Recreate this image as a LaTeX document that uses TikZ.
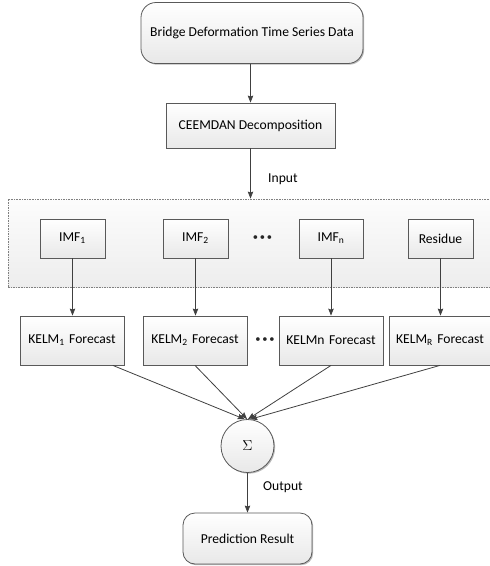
\documentclass[tikz,border=0pt]{standalone}
\usepackage{fontspec}
\setmainfont{Carlito}
\usetikzlibrary{arrows.meta,shadows,calc}
\begin{document}
\begin{tikzpicture}[x=1pt,y=-1pt,
  font=\fontsize{13.6}{16}\selectfont,
  box/.style={draw=black!65, line width=0.8pt, top color=white, bottom color=black!9,
    drop shadow={shadow xshift=1.2pt,shadow yshift=-1.2pt,fill=black!45,opacity=0.6},
    inner sep=0pt, align=center},
  grpbox/.style={draw=black!50, line width=0.8pt, dash pattern=on 1.6pt off 1pt,
    top color=black!1, bottom color=black!7, inner sep=0pt},
  arr/.style={draw=black!75, line width=0.8pt, -{Stealth[length=7pt,width=5.5pt,inset=1pt]}},
  lbl/.style={inner sep=0pt, anchor=west},
  dotsl/.style={inner sep=0pt, text=black!85, font=\fontsize{10.5}{12}\selectfont}
]
\useasboundingbox (0,0) rectangle (490,566);
\clip (0,0) rectangle (490,566);

% nodes
\node[box, rounded corners=15pt, minimum width=222pt, minimum height=61pt] (top) at (252,33) {Bridge Deformation Time Series Data};
\node[box, minimum width=169pt, minimum height=45pt] (ceem) at (250.5,125.5) {CEEMDAN Decomposition};

\node[grpbox, minimum width=494pt, minimum height=88pt] (grp) at (255,243) {};

\node[box, minimum width=65pt, minimum height=39pt] (imf1) at (72.5,238.5) {IMF\textsubscript{1}};
\node[box, minimum width=65pt, minimum height=39pt] (imf2) at (195.5,238.5) {IMF\textsubscript{2}};
\node[dotsl] (dots1) at (262.5,238) {\textbullet\,\textbullet\,\textbullet};
\node[box, minimum width=64pt, minimum height=39pt] (imfn) at (331,238.5) {IMF\textsubscript{n}};
\node[box, minimum width=65pt, minimum height=39pt] (res) at (440.5,238.5) {Residue};

\node[box, minimum width=104pt, minimum height=49pt] (kelm1) at (72,340.5) {KELM\textsubscript{1}\,\,Forecast};
\node[box, minimum width=104pt, minimum height=49pt] (kelm2) at (195,340.5) {KELM\textsubscript{2}\,\,Forecast};
\node[dotsl] (dots2) at (265,340) {\textbullet\,\textbullet\,\textbullet};
\node[box, minimum width=104pt, minimum height=49pt] (kelmn) at (331,340.5) {KELMn\,\,Forecast};
\node[box, minimum width=102pt, minimum height=49pt] (kelmr) at (440,340.5) {KELM\textsubscript{R}\,\,Forecast};

\node[box, circle, minimum size=53pt] (sig) at (247.5,446) {$\Sigma$};
\node[box, rounded corners=12pt, minimum width=129pt, minimum height=51pt] (pred) at (247.5,538.5) {Prediction Result};

% labels
\node[lbl] (inlbl) at (268,179) {Input};
\node[lbl] (outlbl) at (263,487) {Output};

% connectors
\draw[arr] (top.south -| ceem.north) -- (ceem.north);
\draw[arr] (ceem.south) -- (ceem.south |- grp.north);
\draw[arr] (imf1.south) -- (imf1.south |- kelm1.north);
\draw[arr] (imf2.south) -- (imf2.south |- kelm2.north);
\draw[arr] (imfn.south) -- (imfn.south |- kelmn.north);
\draw[arr] (res.south) -- (res.south |- kelmr.north);

\coordinate (k1s) at ($(kelm1.south west)!0.89!(kelm1.south east)$);
\draw[arr] (k1s) -- (sig.96);
\draw[arr] (kelm2.south) -- (sig.91);
\draw[arr] (kelmn.south) -- (sig.89);
\draw[arr] (kelmr.south) -- (sig.84);
\draw[arr] (sig.south) -- (pred.north);
\end{tikzpicture}
\end{document}
